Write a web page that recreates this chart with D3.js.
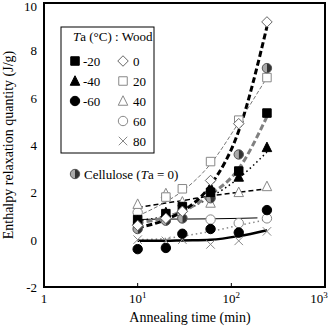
<!DOCTYPE html>
<html>
<head>
<meta charset="utf-8">
<script src="https://cdn.jsdelivr.net/npm/d3@7"></script>
<style>
  body { margin: 0; background: #fff; }
  svg { font-family: "Liberation Serif", "Times New Roman", serif; }
</style>
</head>
<body>
<div id="chart"></div>
<script>
// annealing times (min)
var times = [10, 20, 30, 60, 120, 240];

// measured values (J/g)
var m20 = [0.85, 1.1, 1.4, 2.0, 2.9, 5.35];
var m40 = [0.8, 1.15, 1.35, 2.2, 2.65, 3.9];
var m60 = [-0.4, -0.35, 0.25, 0.45, 0.3, 1.25];
var p0 = [0.6, 0.9, 1.2, 2.5, 4.9, 9.2];
var p20 = [0.6, 1.8, 2.15, 3.3, 5.05, 6.85];
var p40 = [1.5, 1.95, 1.6, 1.55, 2.0, 2.25];
var p60 = [1.15, 0.9, 0.9, 0.85, 0.7, 0.9];
var p80 = [0.0, -0.05, 0.0, -0.2, -0.05, 0.35];
var cellulose = [0.45, 0.8, 0.9, 1.75, 3.6, 7.25];

// fitted curves
var fitTimes = [10, 20, 30, 60, 120, 240];
var fit0 = [0.5, 0.85, 1.2, 2.3, 4.6, 9.0];
var fit20 = [1.0, 1.6, 2.05, 3.2, 4.95, 6.85];
var fitM20 = [0.7, 0.95, 1.2, 1.9, 3.0, 5.2];
var fitM40 = [0.8, 1.0, 1.2, 1.8, 2.6, 3.7];
var fit40 = [1.35, 1.55, 1.65, 1.85, 2.0, 2.15];
var fitM60 = [0.0, 0.05, 0.15, 0.35, 0.6, 0.85];
var fit80 = [-0.05, -0.05, -0.03, 0.0, 0.15, 0.4];
var fit60Times = [10, 20, 30, 60, 120, 190];
var fit60 = [0.85, 0.87, 0.87, 0.88, 0.9, 0.92];

var yTicks = [-2, 0, 2, 4, 6, 8, 10];
var xTicks = [1, 10, 100, 1000];
var xTickLabels = [["1", ""], ["10", "1"], ["10", "2"], ["10", "3"]];

var W = 331, H = 330;
var svg = d3.select("#chart").append("svg").attr("width", W).attr("height", H);

var x = d3.scaleLog().domain([1, 1000]).range([44, 325]);
var y = d3.scaleLinear().domain([-2, 10]).range([287, 3]);

function curve(ts, vs) {
  return d3.line().x(function(d, i){ return x(ts[i]); }).y(function(d){ return y(d); })
    .curve(d3.curveMonotoneX)(vs);
}

// fit lines
var fits = [
  {t: fitTimes, v: fit40, c: "#000", w: 1.5, dash: "5,3"},
  {t: fit60Times, v: fit60, c: "#000", w: 1, dash: null},
  {t: fitTimes, v: fitM60, c: "#888", w: 1.5, dash: "1.5,3"},
  {t: fitTimes, v: fit80, c: "#000", w: 2.5, dash: null},
  {t: fitTimes, v: fit20, c: "#777", w: 1, dash: "4,2"},
  {t: fitTimes, v: fitM40, c: "#000", w: 1.5, dash: "1.5,3"},
  {t: fitTimes, v: fitM20, c: "#808080", w: 3, dash: "6,3"},
  {t: fitTimes, v: fit0, c: "#000", w: 3, dash: "6,3"}
];
fits.forEach(function(f){
  svg.append("path").attr("d", curve(f.t, f.v))
    .attr("fill", "none").attr("stroke", f.c).attr("stroke-width", f.w)
    .attr("stroke-dasharray", f.dash);
});

// marker shapes
function shape(kind, s) {
  var h = s / 2;
  if (kind == "square") return "M" + (-h) + "," + (-h) + "h" + s + "v" + s + "h" + (-s) + "Z";
  if (kind == "diamond") return "M0," + (-h - 1) + "L" + (h + 1) + ",0L0," + (h + 1) + "L" + (-h - 1) + ",0Z";
  if (kind == "triangle") return "M0," + (-h - 1) + "L" + (h + 0.5) + "," + (h) + "L" + (-h - 0.5) + "," + (h) + "Z";
  if (kind == "cross") return "M" + (-h) + "," + (-h) + "L" + h + "," + h + "M" + h + "," + (-h) + "L" + (-h) + "," + h;
  return null;
}

function marker(g, kind, filled, px, py) {
  var s = 8.5, r = 4.7;
  if (kind == "circle") {
    g.append("circle").attr("cx", px).attr("cy", py).attr("r", r)
      .attr("fill", filled ? "#000" : "#fff").attr("stroke", filled ? "#000" : "#888").attr("stroke-width", 1);
  } else if (kind == "half") {
    g.append("path").attr("d", "M" + px + "," + (py - r) + "A" + r + "," + r + " 0 0 0 " + px + "," + (py + r) + "Z")
      .attr("fill", "#aaa");
    g.append("path").attr("d", "M" + px + "," + (py - r) + "A" + r + "," + r + " 0 0 1 " + px + "," + (py + r) + "Z")
      .attr("fill", "#333");
    g.append("circle").attr("cx", px).attr("cy", py).attr("r", r)
      .attr("fill", "none").attr("stroke", "#555").attr("stroke-width", 1);
  } else {
    g.append("path").attr("d", shape(kind, s)).attr("transform", "translate(" + px + "," + py + ")")
      .attr("fill", kind == "cross" ? "none" : (filled ? "#000" : "#fff"))
      .attr("stroke", filled ? "#000" : (kind == "diamond" ? "#666" : "#888")).attr("stroke-width", 1);
  }
}

var series = [
  {v: p80, kind: "cross", filled: false},
  {v: p60, kind: "circle", filled: false},
  {v: p40, kind: "triangle", filled: false},
  {v: p20, kind: "square", filled: false},
  {v: m60, kind: "circle", filled: true},
  {v: cellulose, kind: "half", filled: false},
  {v: m40, kind: "triangle", filled: true},
  {v: m20, kind: "square", filled: true},
  {v: p0, kind: "diamond", filled: false}
];
var pts = svg.append("g");
series.forEach(function(s){
  s.v.forEach(function(d, i){ marker(pts, s.kind, s.filled, x(times[i]), y(d)); });
});

// frame
svg.append("rect").attr("x", 44).attr("y", 3).attr("width", 281).attr("height", 284)
  .attr("fill", "none").attr("stroke", "#000").attr("stroke-width", 2);

// x ticks (inside)
svg.selectAll(".xt").data([10, 100]).enter().append("line")
  .attr("x1", function(d){ return x(d); }).attr("x2", function(d){ return x(d); })
  .attr("y1", 287).attr("y2", 283).attr("stroke", "#000");

// y tick labels
svg.selectAll(".yl").data(yTicks).enter().append("text")
  .attr("x", 37).attr("y", function(d){ return Math.max(y(d) + 5, 11); })
  .attr("text-anchor", "end").attr("font-size", 13).text(function(d){ return d; });

// x tick labels
xTicks.forEach(function(t, i){
  var tx = svg.append("text").attr("x", Math.min(x(t), 319)).attr("y", 303).attr("text-anchor", "middle").attr("font-size", 13);
  tx.append("tspan").text(xTickLabels[i][0]);
  if (xTickLabels[i][1]) tx.append("tspan").attr("dy", -5).attr("font-size", 9).text(xTickLabels[i][1]);
});

svg.append("text").attr("x", 190).attr("y", 322).attr("text-anchor", "middle")
  .attr("font-size", 14).text("Annealing time (min)");
svg.append("text").attr("transform", "translate(13,145) rotate(-90)").attr("text-anchor", "middle")
  .attr("font-size", 14).text("Enthalpy relaxation quantity (J/g)");

// legend
var lg = svg.append("g");
lg.append("rect").attr("x", 61).attr("y", 27).attr("width", 93).attr("height", 126)
  .attr("fill", "#fff").attr("stroke", "#000").attr("stroke-width", 1);
var title = lg.append("text").attr("x", 73).attr("y", 41).attr("font-size", 13);
title.append("tspan").attr("font-style", "italic").text("T");
title.append("tspan").text("a (°C) : Wood");

var legLeft = [["-20", "square", true], ["-40", "triangle", true], ["-60", "circle", true]];
var legRight = [["0", "diamond", false], ["20", "square", false], ["40", "triangle", false], ["60", "circle", false], ["80", "cross", false]];
legLeft.forEach(function(d, i){
  var cy = 61 + i * 20;
  marker(lg, d[1], d[2], 75, cy);
  lg.append("text").attr("x", 83).attr("y", cy + 5).attr("font-size", 13).text(d[0]);
});
legRight.forEach(function(d, i){
  var cy = 61 + i * 20;
  marker(lg, d[1], d[2], 123, cy);
  lg.append("text").attr("x", 133).attr("y", cy + 5).attr("font-size", 13).text(d[0]);
});

marker(lg, "half", false, 75, 174);
var cel = lg.append("text").attr("x", 84).attr("y", 179).attr("font-size", 13);
cel.append("tspan").text("Cellulose (");
cel.append("tspan").attr("font-style", "italic").text("T");
cel.append("tspan").text("a = 0)");
</script>
</body>
</html>
